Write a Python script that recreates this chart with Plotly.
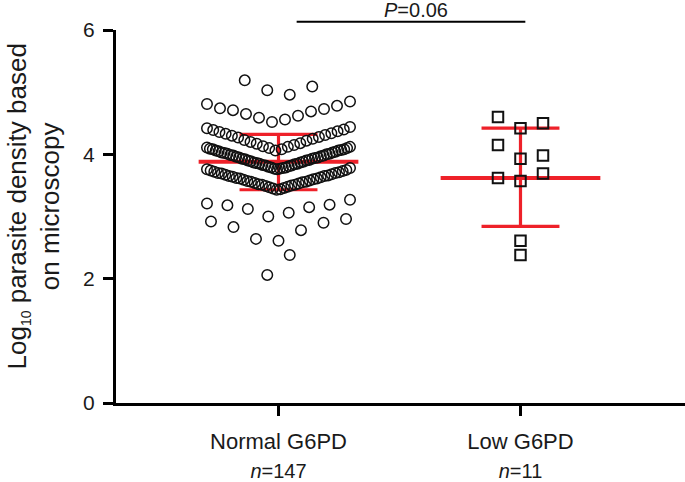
import plotly.graph_objects as go

# ---------------- data ----------------
categories = ["Normal G6PD", "Low G6PD"]
group_n = ["147", "11"]
cat_x = [1, 2]

# Normal G6PD: log10 parasite density, one list per horizontal row of the dot plot
normal_row_top = [4.96, 5.03, 5.09, 5.19]
normal_row_2 = [4.52, 4.56, 4.59, 4.62, 4.65, 4.69, 4.71, 4.73, 4.74, 4.78, 4.81, 4.85]
normal_band_a = [4.06, 4.08, 4.10, 4.12, 4.13, 4.15, 4.17, 4.18, 4.20, 4.22, 4.23, 4.25,
                 4.27, 4.28, 4.30, 4.31, 4.33, 4.34, 4.36, 4.37, 4.39, 4.40, 4.42, 4.44]
normal_band_b = [3.76, 3.77, 3.77, 3.78, 3.79, 3.79, 3.80, 3.81, 3.82, 3.82,
                 3.83, 3.84, 3.85, 3.85, 3.86, 3.87, 3.87, 3.88, 3.89, 3.90,
                 3.90, 3.91, 3.92, 3.93, 3.93, 3.94, 3.95, 3.95, 3.96, 3.97,
                 3.98, 3.98, 3.99, 4.00, 4.01, 4.01, 4.02, 4.03, 4.03, 4.04,
                 4.05, 4.06, 4.06, 4.07, 4.08, 4.08, 4.09, 4.10, 4.11, 4.12]
normal_band_c = [3.43, 3.44, 3.45, 3.46, 3.47, 3.48, 3.49, 3.50, 3.51, 3.51,
                 3.52, 3.53, 3.54, 3.55, 3.56, 3.56, 3.57, 3.58, 3.59, 3.60,
                 3.61, 3.61, 3.62, 3.63, 3.64, 3.65, 3.65, 3.66, 3.67, 3.68,
                 3.69, 3.70, 3.70, 3.71, 3.72, 3.73, 3.74, 3.75, 3.76, 3.78]
normal_row_a = [3.00, 3.06, 3.12, 3.15, 3.18, 3.19, 3.21, 3.27]
normal_row_b = [2.61, 2.64, 2.78, 2.83, 2.90, 2.92, 2.96]
normal_row_c = [2.06, 2.38]

# Low G6PD rows
low_row_1 = [4.42, 4.50, 4.60]
low_row_2 = [3.93, 3.98, 4.15]
low_row_3 = [3.57, 3.62, 3.69]
low_row_4 = [2.61]
low_row_5 = [2.38]

# red summary bars: centre, lower, upper
summary_mid = [3.88, 3.62]
summary_low = [3.43, 2.84]
summary_high = [4.32, 4.42]

p_label = "<i>P</i>=0.06"

# ---------------- layout helpers ----------------
RED = "#ee2129"
FONT = "Liberation Sans, Arial, sans-serif"
STEP = 0.093      # max horizontal step between dots (x units)
ROW_W = 0.591     # max row width (x units)


def row_layout(values, first_side):
    v = sorted(values)
    n = len(v)
    step = STEP if n < 2 else min(STEP, ROW_W / (n - 1))
    offs = []
    for i in range(n):
        if n % 2 == 1:
            if i == 0:
                k = 0
            else:
                m = (i + 1) // 2
                side = first_side if i % 2 == 1 else -first_side
                k = side * m
        else:
            m = i // 2 + 0.5
            side = first_side if i % 2 == 0 else -first_side
            k = side * m
        offs.append(k * step)
    return v, offs


normal_rows = [(normal_row_top, 1), (normal_row_2, -1), (normal_band_a, -1),
               (normal_band_b, -1), (normal_band_c, -1), (normal_row_a, -1),
               (normal_row_b, -1), (normal_row_c, -1)]
low_rows = [(low_row_1, 1), (low_row_2, 1), (low_row_3, -1), (low_row_4, 1), (low_row_5, 1)]


def build(rows, centre):
    xs, ys = [], []
    for vals, side in rows:
        v, o = row_layout(vals, side)
        xs += [centre + d for d in o]
        ys += v
    return xs, ys


nx, ny = build(normal_rows, cat_x[0])
lx, ly = build(low_rows, cat_x[1])

fig = go.Figure()

# red mean / error bars
MEAN_HALF = 0.33
CAP_HALF = 0.161
for c, m, lo, hi in zip(cat_x, summary_mid, summary_low, summary_high):
    fig.add_trace(go.Scatter(
        x=[c, c, None, c - CAP_HALF, c + CAP_HALF, None, c - CAP_HALF, c + CAP_HALF],
        y=[lo, hi, None, hi, hi, None, lo, lo],
        mode="lines", line=dict(color=RED, width=3.2), hoverinfo="skip", showlegend=False))
    fig.add_trace(go.Scatter(
        x=[c - MEAN_HALF, c + MEAN_HALF], y=[m, m],
        mode="lines", line=dict(color=RED, width=4), hoverinfo="skip", showlegend=False))

fig.add_trace(go.Scatter(
    x=nx, y=ny, mode="markers", showlegend=False,
    marker=dict(symbol="circle-open", size=10.5, color="#111111", line=dict(width=1.5))))
fig.add_trace(go.Scatter(
    x=lx, y=ly, mode="markers", showlegend=False,
    marker=dict(symbol="square-open", size=10.5, color="#111111", line=dict(width=2))))

ticktext = [f"{c}<br><span style='font-size:20px'><i>n</i>={n}</span>"
            for c, n in zip(categories, group_n)]

fig.update_layout(
    width=685, height=482,
    margin=dict(l=116, r=0, t=30, b=76),
    paper_bgcolor="white", plot_bgcolor="white",
    font=dict(family=FONT, color="#1a1a1a"),
    xaxis=dict(range=[0.3285, 2.6798], tickvals=cat_x, ticktext=ticktext,
               showgrid=False, zeroline=False, showline=True, linecolor="#000",
               linewidth=3, ticks="outside", ticklen=10, tickwidth=3, tickcolor="#000",
               tickfont=dict(size=22, family=FONT, color="#1a1a1a"),
               ticklabelstandoff=7),
    yaxis=dict(range=[0, 6], tickvals=[0, 2, 4, 6], showgrid=False, zeroline=False,
               showline=True, linecolor="#000", linewidth=3, ticks="outside",
               ticklen=10, tickwidth=3, tickcolor="#000",
               tickfont=dict(size=21, family=FONT, color="#1a1a1a"),
               ticklabelstandoff=4),
)

fig.add_annotation(
    text="Log<sub><span style='font-size:14px'>10</span></sub> parasite density based<br>on microscopy",
    xref="paper", yref="paper", x=-0.144, y=0.527, xanchor="center", yanchor="middle",
    textangle=-90, showarrow=False, font=dict(size=26, family=FONT, color="#1a1a1a"))

# significance bracket
fig.add_shape(type="line", xref="x", yref="paper", x0=1.075, x1=2.02,
              y0=1.022, y1=1.022, line=dict(color="#000", width=2))
fig.add_annotation(text=p_label, xref="x", yref="paper", x=1.567, y=1.053,
                   xanchor="center", yanchor="middle", showarrow=False,
                   font=dict(size=20, family=FONT, color="#1a1a1a"))

fig.write_html("out.html", config={"displayModeBar": False},
               post_script="document.body.style.margin='0';")
